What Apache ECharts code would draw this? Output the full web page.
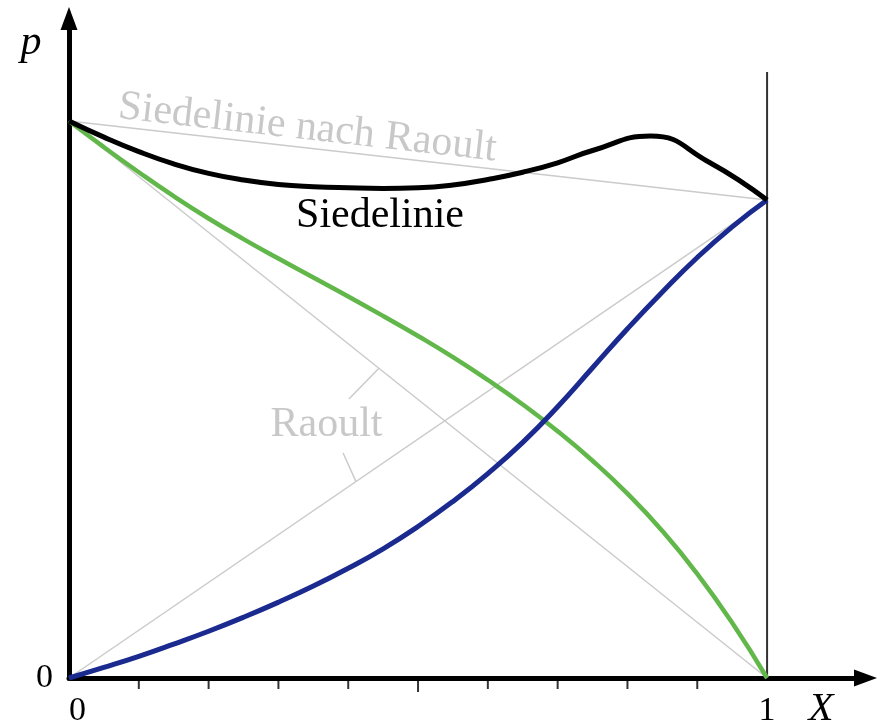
<!DOCTYPE html>
<html>
<head>
<meta charset="utf-8">
<script src="https://cdn.jsdelivr.net/npm/echarts@6/dist/echarts.min.js"></script>
<style>
html,body{margin:0;padding:0;background:#fff;}
#c{width:880px;height:727px;}
</style>
</head>
<body>
<div id="c"></div>
<script>
// ---- data ----
const molX = [0,0.05,0.1,0.15,0.2,0.25,0.3,0.35,0.4,0.45,0.5,0.55,0.6,0.65,0.7,0.75,0.8,0.85,0.9,0.95,1];
const siedeX = [0,0.05,0.1,0.15,0.2,0.25,0.3,0.35,0.4,0.45,0.5,0.55,0.6,0.65,0.7,0.75,0.833,0.917,1];
const siedelinie = [1.000,0.971,0.945,0.923,0.906,0.894,0.886,0.882,0.880,0.879,0.880,0.885,0.895,0.908,0.925,0.947,0.973,0.926,0.858];
const partialGreen = [1.000,0.953,0.908,0.865,0.825,0.788,0.753,0.719,0.685,0.650,0.614,0.576,0.535,0.491,0.443,0.390,0.331,0.264,0.187,0.099,0];
const partialBlue = [0,0.019,0.039,0.061,0.084,0.109,0.136,0.165,0.197,0.232,0.272,0.317,0.367,0.423,0.487,0.557,0.627,0.693,0.755,0.810,0.858];
const raoultEnds = [0,1];
const raoultTotal = [1.0,0.858];
const raoultGreen = [1.0,0];
const raoultBlue = [0,0.858];
const leader1 = [[0.444,0.556],[0.401,0.501]];
const leader2 = [[0.411,0.353],[0.3926,0.404]];
const xTicks = [0.1,0.2,0.3,0.4,0.6,0.7,0.8,0.9];
const xMidTick = [0.5];
const edgeLine = [[1,0],[1,1.088]];
const xLabels = {0:'0',1:'1'};
const yLabels = {0:'0'};

const zip = (xs, ys) => xs.map((x,i)=>[x, ys[i]]);
const serif = '"Liberation Serif", "Times New Roman", serif';

const chart = echarts.init(document.getElementById('c'), null, {renderer:'canvas'});
chart.setOption({
  animation:false,
  backgroundColor:'#ffffff',
  grid:{left:69, right:14.5, top:18.5, bottom:49, containLabel:false, outerBoundsMode:'none'},
  xAxis:{
    type:'value', min:0, max:1.141, interval:0.1,
    splitLine:{show:false}, axisTick:{show:false},
    axisLine:{show:true, onZero:false, symbol:['none','triangle'], symbolSize:[17,23], lineStyle:{color:'#000', width:5}},
    axisLabel:{
      margin:16, showMaxLabel:false, alignMinLabel:'left',
      fontFamily:serif, fontSize:34, color:'#000',
      formatter:v=>{const k=Math.round(v*10)/10; return xLabels[k]!==undefined && Math.abs(v-k)<1e-6 ? xLabels[k] : '';}
    }
  },
  yAxis:{
    type:'value', min:0, max:1.184, interval:0.2,
    splitLine:{show:false}, axisTick:{show:false},
    axisLine:{show:true, onZero:false, symbol:['none','triangle'], symbolSize:[17,23], lineStyle:{color:'#000', width:5}},
    axisLabel:{
      margin:16, showMaxLabel:false,
      fontFamily:serif, fontSize:34, color:'#000',
      formatter:v=> (Math.abs(v)<1e-9 ? yLabels[0] : '')
    }
  },
  series:[
    {type:'line', data:zip(raoultEnds, raoultTotal), symbol:'none', clip:false, z:1, lineStyle:{color:'#cbcbcb', width:1.5}},
    {type:'line', data:zip(raoultEnds, raoultGreen), symbol:'none', clip:false, z:1, lineStyle:{color:'#cbcbcb', width:1.5}},
    {type:'line', data:zip(raoultEnds, raoultBlue), symbol:'none', clip:false, z:1, lineStyle:{color:'#cbcbcb', width:1.5}},
    {type:'line', data:leader1, symbol:'none', clip:false, z:1, lineStyle:{color:'#cbcbcb', width:1.5}},
    {type:'line', data:leader2, symbol:'none', clip:false, z:1, lineStyle:{color:'#cbcbcb', width:1.5}},
    {type:'line', data:edgeLine, symbol:'none', clip:false, z:1, lineStyle:{color:'#333', width:2}},
    {type:'line', data:zip(molX, partialGreen), symbol:'none', smooth:0.5, clip:false, z:3, lineStyle:{color:'#62b74a', width:4.5}},
    {type:'line', data:zip(molX, partialBlue), symbol:'none', smooth:0.5, clip:false, z:3, lineStyle:{color:'#1b2a8e', width:5}},
    {type:'line', data:zip(siedeX, siedelinie), symbol:'none', smooth:0.5, clip:false, z:4, lineStyle:{color:'#000', width:5}},
    {type:'scatter', data:xTicks.map(x=>[x,0]), symbol:'rect', symbolSize:[2,11], symbolOffset:[0,5.5], clip:false, z:5, itemStyle:{color:'#000'}, silent:true},
    {type:'scatter', data:xMidTick.map(x=>[x,0]), symbol:'rect', symbolSize:[2,14], symbolOffset:[0,7], clip:false, z:5, itemStyle:{color:'#000'}, silent:true}
  ],
  graphic:[
    {type:'text', x:31, y:43, style:{text:'p', font:'italic 42px ' + serif, fill:'#000', align:'center', verticalAlign:'middle'}},
    {type:'text', x:821, y:709, style:{text:'X', font:'italic 41px ' + serif, fill:'#000', align:'center', verticalAlign:'middle'}},
    {type:'text', x:380, y:216, style:{text:'Siedelinie', font:'42px ' + serif, fill:'#000', align:'center', verticalAlign:'middle'}},
    {type:'text', x:326.5, y:425, style:{text:'Raoult', font:'42px ' + serif, fill:'#c8c8c8', align:'center', verticalAlign:'middle'}},
    {type:'text', x:118.6, y:106.9, rotation:-0.1126, style:{text:'Siedelinie nach Raoult', font:'42px ' + serif, fill:'#c8c8c8', align:'left', verticalAlign:'middle'}}
  ]
});
</script>
</body>
</html>
